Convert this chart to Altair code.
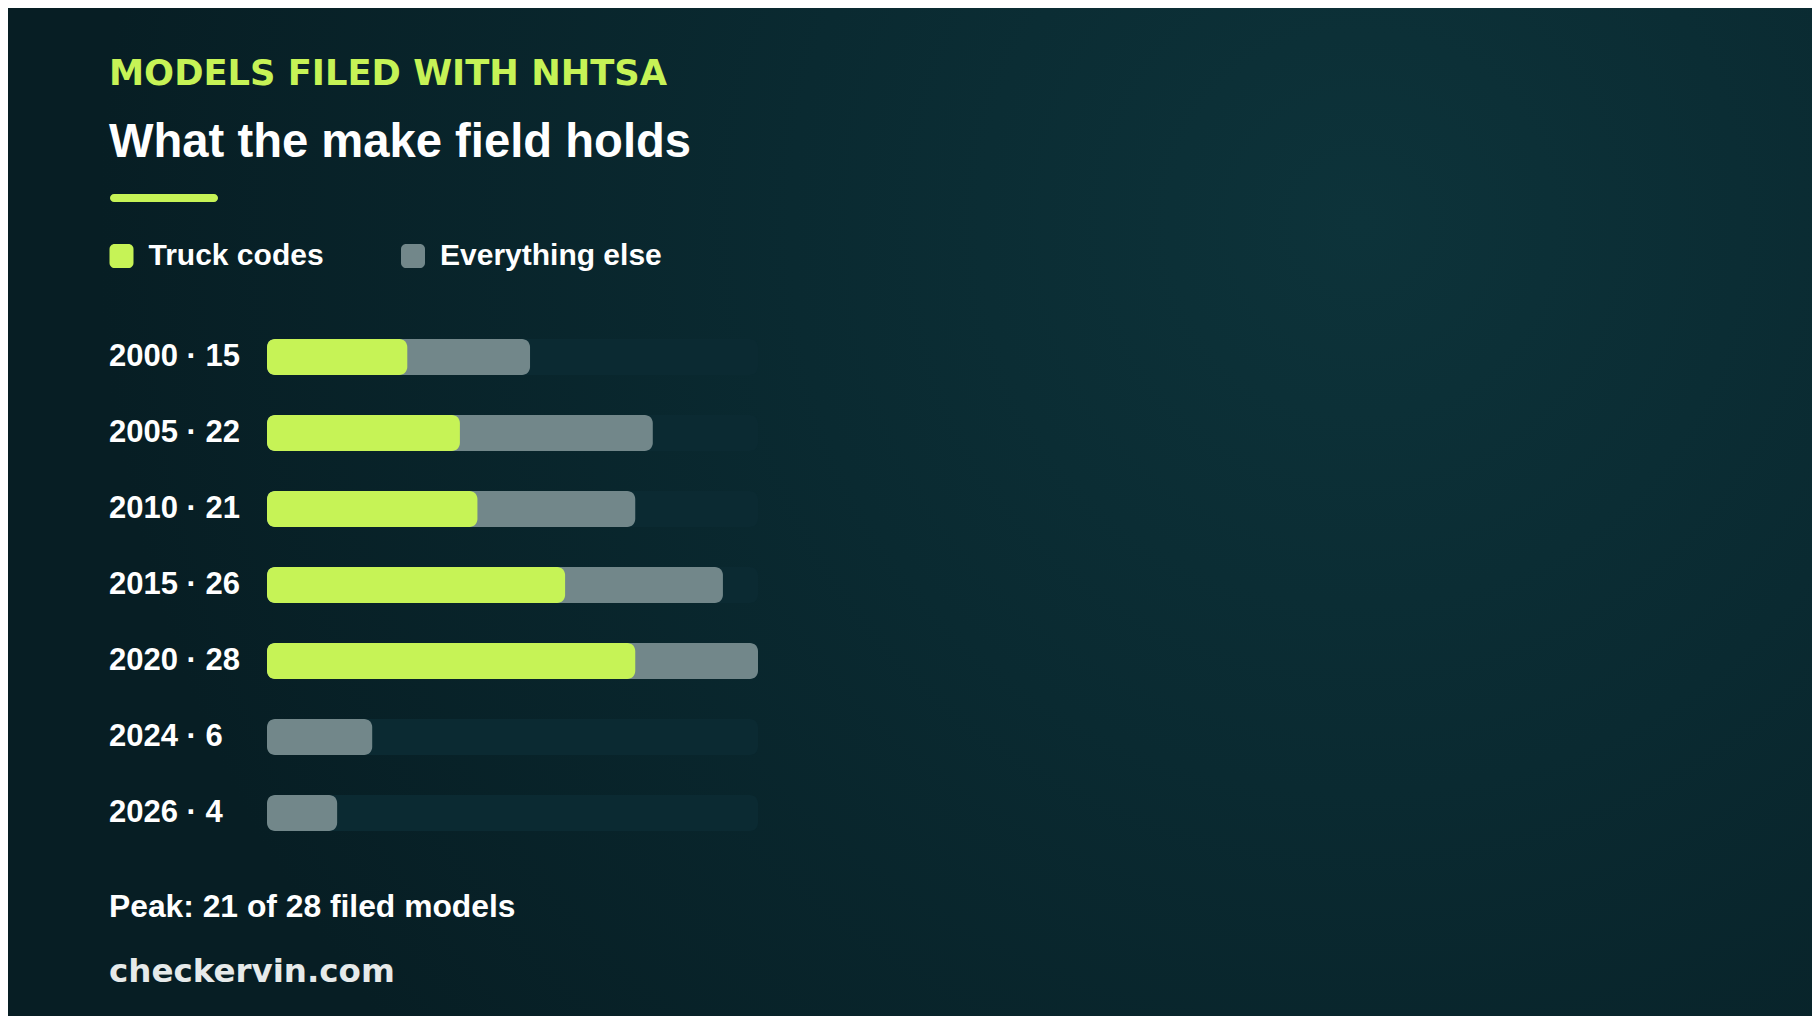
import altair as alt
import pandas as pd

# ---- data ----
years = ["2000", "2005", "2010", "2015", "2020", "2024", "2026"]
total_models = [15, 22, 21, 26, 28, 6, 4]
truck_models = [8, 11, 12, 17, 21, 0, 0]
series_names = ["Truck codes", "Everything else"]

kicker_text = "MODELS FILED WITH NHTSA"
headline_text = "What the make field holds"
footnote_text = "Peak: 21 of 28 filed models"
source_text = "checkervin.com"

# ---- styling ----
LIME = "#c6f356"
GRAY = "#72878a"
TRACK = "#0b2a32"
WHITE = "#ffffff"
FONT = "Liberation Sans"
WIDE_FONT = "DejaVu Sans"
W, H = 1804, 1008
OFF = 8  # page margin


def px(v):
    return v - OFF


rows = pd.DataFrame({"year": years, "total": total_models, "truck": truck_models})
bars = pd.DataFrame({
    "year": years + years,
    "series": ["Everything else"] * len(years) + ["Truck codes"] * len(years),
    "value": total_models + truck_models,
})
one = pd.DataFrame({"k": [0]})

x_scale = alt.Scale(range=[px(267), px(758)], zero=True, nice=False)
y_scale = alt.Scale(domain=years, range=[px(319), px(851)],
                    paddingInner=40 / 76, paddingOuter=20 / 76)

bg = alt.Chart(one).mark_rect(
    fill=alt.RadialGradient(
        gradient="radial", x1=0.75, y1=0.34, r1=0, x2=0.75, y2=0.34, r2=0.7,
        stops=[alt.GradientStop(offset=0, color="#0d333a"),
               alt.GradientStop(offset=0.45, color="#0a2a31"),
               alt.GradientStop(offset=1, color="#071e24")])
).encode(x=alt.value(0), x2=alt.value(W), y=alt.value(0), y2=alt.value(H))


def label(text, x, y, size, color=WHITE, font=FONT):
    return alt.Chart(one).mark_text(
        text=text, align="left", baseline="alphabetic", font=font,
        fontWeight="bold", fontSize=size, color=color
    ).encode(x=alt.value(px(x)), y=alt.value(px(y)))


kicker = label(kicker_text, 109, 85, 35.3, LIME, WIDE_FONT)
headline = label(headline_text, 109, 157, 47.2)
underline = alt.Chart(one).mark_rect(cornerRadius=4, color=LIME).encode(
    x=alt.value(px(110)), x2=alt.value(px(218)), y=alt.value(px(194)), y2=alt.value(px(202)))
footnote = label(footnote_text, 109, 917, 31.8)
source = label(source_text, 109, 982, 32.5, "#e6eaea", WIDE_FONT)

track = alt.Chart(rows).transform_joinaggregate(
    full="max(total)"
).transform_calculate(start="0").mark_rect(cornerRadius=8, color=TRACK).encode(
    x=alt.X("start:Q", scale=x_scale, axis=None),
    x2="full:Q",
    y=alt.Y("year:N", scale=y_scale, axis=None),
)

ROUNDED = ("M-1,-0.58 A0.42,0.42 0 0 1 -0.58,-1 L0.58,-1 A0.42,0.42 0 0 1 1,-0.58 "
           "L1,0.58 A0.42,0.42 0 0 1 0.58,1 L-0.58,1 A0.42,0.42 0 0 1 -1,0.58 Z")

bar_layer = alt.Chart(bars).transform_filter("datum.value > 0").transform_calculate(
    start="0").mark_rect(cornerRadius=8).encode(
    x=alt.X("start:Q", scale=x_scale, axis=None, stack=None),
    x2="value:Q",
    y=alt.Y("year:N", scale=y_scale, axis=None),
    color=alt.Color(
        "series:N",
        scale=alt.Scale(domain=series_names, range=[LIME, GRAY]),
        sort=series_names,
        legend=alt.Legend(
            title=None, orient="none", legendX=px(106.5), legendY=px(241),
            direction="horizontal", symbolType=ROUNDED, symbolSize=576,
            symbolStrokeWidth=0, symbolOpacity=1, labelFont=FONT,
            labelFontWeight="bold", labelFontSize=30, labelColor=WHITE,
            labelOffset=12, columnPadding=73.5, padding=0, labelLimit=500),
    ),
)

row_labels = alt.Chart(rows).transform_calculate(
    label="datum.year + ' · ' + datum.total"
).mark_text(align="left", baseline="alphabetic", dy=9, font=FONT,
            fontWeight="bold", fontSize=31, color=WHITE).encode(
    x=alt.value(px(109)),
    y=alt.Y("year:N", scale=y_scale, axis=None),
    text="label:N",
)

chart = alt.layer(
    bg, kicker, headline, underline, track, bar_layer, row_labels, footnote, source
).properties(
    width=W, height=H, padding=0, background="#071f26",
    autosize=alt.AutoSizeParams(type="none"),
).configure_view(stroke=None)

chart.save("out.html", embed_options={"renderer": "svg", "actions": False})
